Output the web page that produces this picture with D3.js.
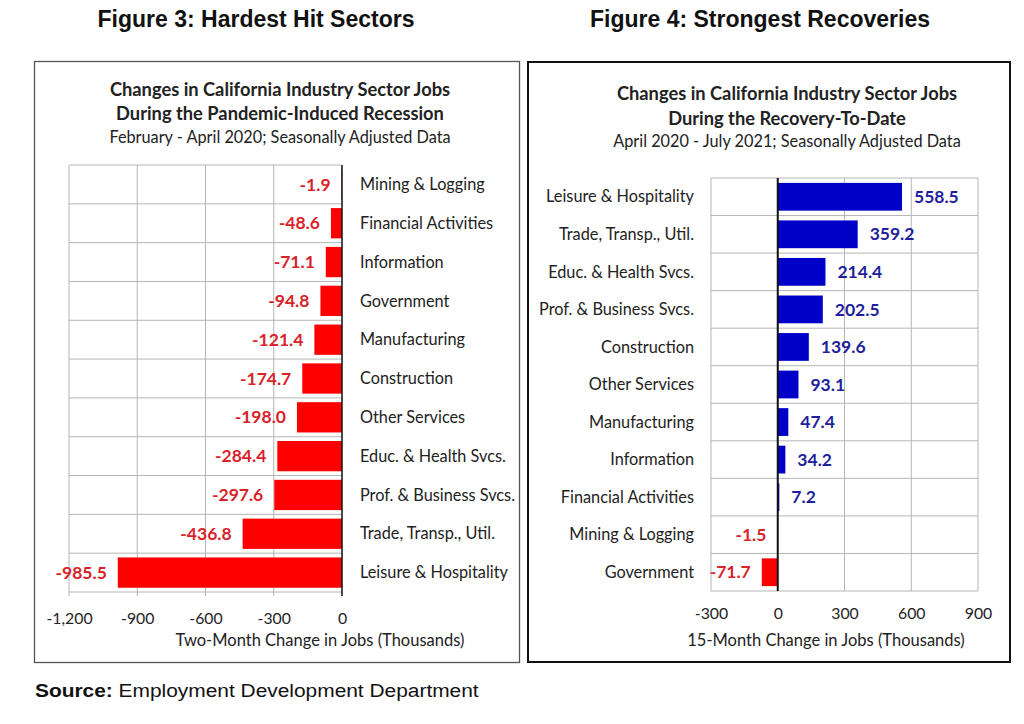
<!DOCTYPE html>
<html>
<head>
<meta charset="utf-8">
<script src="https://cdn.jsdelivr.net/npm/d3@7"></script>
<style>
  body { margin: 0; background: #fff; }
  svg { display: block; }
</style>
</head>
<body>
<div id="scene"></div>
<script>
// Figure 3 data: Feb - Apr 2020
const lossSectors = ["Mining & Logging", "Financial Activities", "Information", "Government",
  "Manufacturing", "Construction", "Other Services", "Educ. & Health Svcs.",
  "Prof. & Business Svcs.", "Trade, Transp., Util.", "Leisure & Hospitality"];
const lossValues = [-1.9, -48.6, -71.1, -94.8, -121.4, -174.7, -198.0, -284.4, -297.6, -436.8, -985.5];
const lossTicks = [-1200, -900, -600, -300, 0];

// Figure 4 data: Apr 2020 - Jul 2021
const gainSectors = ["Leisure & Hospitality", "Trade, Transp., Util.", "Educ. & Health Svcs.",
  "Prof. & Business Svcs.", "Construction", "Other Services", "Manufacturing",
  "Information", "Financial Activities", "Mining & Logging", "Government"];
const gainValues = [558.5, 359.2, 214.4, 202.5, 139.6, 93.1, 47.4, 34.2, 7.2, -1.5, -71.7];
const gainTicks = [-300, 0, 300, 600, 900];

const loc = d3.formatLocale({decimal: ".", thousands: ",", grouping: [3], currency: ["$", ""], minus: "-"});
const fmtTick = loc.format(",");
const fmtVal = loc.format(".1f");

const FONT = "Lato, 'Open Sans', sans-serif";
const ARIAL = "'Liberation Sans', Arial, sans-serif";
const RED = "#ff0000", RED_TXT = "#d9232b", BLUE = "#0000c8", BLUE_TXT = "#1f1f9c";

const width = 1024, height = 724;
const svg = d3.select("#scene").append("svg")
  .attr("width", width)
  .attr("height", height)
  .style("font-family", FONT);

// Figure headers
svg.append("text")
  .attr("x", 256).attr("y", 27)
  .attr("text-anchor", "middle")
  .attr("font-family", ARIAL)
  .attr("font-weight", "bold")
  .attr("font-size", "23px")
  .attr("fill", "#111")
  .text("Figure 3: Hardest Hit Sectors");
svg.append("text")
  .attr("x", 760).attr("y", 27)
  .attr("text-anchor", "middle")
  .attr("font-family", ARIAL)
  .attr("font-weight", "bold")
  .attr("font-size", "23px")
  .attr("fill", "#111")
  .text("Figure 4: Strongest Recoveries");

// Panel frames
svg.append("rect")
  .attr("x", 34.5).attr("y", 61.5).attr("width", 485).attr("height", 601)
  .attr("fill", "none").attr("stroke", "#555").attr("stroke-width", 1.3);
svg.append("rect")
  .attr("x", 528).attr("y", 62).attr("width", 482).attr("height", 600)
  .attr("fill", "none").attr("stroke", "#111").attr("stroke-width", 2);

function drawChart(opts) {
  const g = svg.append("g");
  const x = d3.scaleLinear().domain(opts.domain).range(opts.xRange);
  const y = d3.scaleBand().domain(opts.cats).range(opts.yRange)
    .paddingInner(opts.pad).paddingOuter(opts.pad / 2);
  const step = y.step();
  const x0 = x(0);

  // Titles
  g.selectAll("text.title")
    .data(opts.titles)
    .enter().append("text")
    .attr("x", opts.titleX)
    .attr("y", (d, i) => opts.titleY[i])
    .attr("text-anchor", "middle")
    .attr("font-size", (d, i) => i < 2 ? "18.3px" : "16.3px")
    .attr("font-weight", (d, i) => i < 2 ? "bold" : "normal")
    .attr("fill", "#222")
    .text(d => d);

  // Vertical gridlines
  g.selectAll("line.vg")
    .data(opts.ticks.filter(t => t !== 0))
    .enter().append("line")
    .attr("x1", d => x(d)).attr("x2", d => x(d))
    .attr("y1", opts.yRange[0]).attr("y2", opts.yRange[1] + opts.tickLen)
    .attr("stroke", "#b5b5b5").attr("stroke-width", 1);

  // Horizontal gridlines at row boundaries
  const bounds = d3.range(opts.cats.length + 1).map(i => opts.yRange[0] + i * step);
  g.selectAll("line.hg")
    .data(bounds)
    .enter().append("line")
    .attr("x1", x(opts.domain[0])).attr("x2", x(opts.domain[1]))
    .attr("y1", d => d).attr("y2", d => d)
    .attr("stroke", "#b5b5b5").attr("stroke-width", 1);

  // Bars
  g.selectAll("rect.bar")
    .data(opts.values)
    .enter().append("rect")
    .attr("x", d => Math.min(x(d), x0))
    .attr("y", (d, i) => y(opts.cats[i]))
    .attr("width", d => Math.abs(x(d) - x0))
    .attr("height", y.bandwidth())
    .attr("fill", d => d < 0 ? RED : BLUE);

  // Zero axis
  g.append("line")
    .attr("x1", x0).attr("x2", x0)
    .attr("y1", opts.yRange[0]).attr("y2", opts.yRange[1] + opts.tickLen)
    .attr("stroke", "#111").attr("stroke-width", opts.axisW);

  // Value labels
  g.selectAll("text.val")
    .data(opts.values)
    .enter().append("text")
    .attr("x", d => d < 0 ? Math.min(x(d), x0) - 11 : x(d) + 12)
    .attr("y", (d, i) => y(opts.cats[i]) + y.bandwidth() / 2)
    .attr("dy", "0.35em")
    .attr("text-anchor", d => d < 0 ? "end" : "start")
    .attr("font-size", "17.5px")
    .attr("font-weight", "bold")
    .attr("fill", d => d < 0 ? RED_TXT : BLUE_TXT)
    .text(d => fmtVal(d));

  // Category labels
  g.selectAll("text.cat")
    .data(opts.cats)
    .enter().append("text")
    .attr("x", opts.catX)
    .attr("y", d => y(d) + y.bandwidth() / 2)
    .attr("dy", "0.35em")
    .attr("text-anchor", opts.catAnchor)
    .attr("font-size", "16.3px")
    .attr("fill", "#222")
    .text(d => d);

  // Tick labels
  const axis = g.append("g")
    .attr("transform", `translate(0,${opts.tickY})`)
    .call(d3.axisBottom(x).tickValues(opts.ticks).tickSize(0).tickFormat(fmtTick));
  axis.select(".domain").remove();
  axis.selectAll("text")
    .attr("font-family", FONT)
    .attr("font-size", "15.8px")
    .attr("fill", "#222")
    .attr("dy", "0.35em")
    .attr("y", 0);

  // Axis title
  g.append("text")
    .attr("x", opts.axisTitleX)
    .attr("y", opts.axisTitleY)
    .attr("dy", "0.35em")
    .attr("text-anchor", "middle")
    .attr("font-size", "16.5px")
    .attr("fill", "#222")
    .text(opts.axisTitle);
}

drawChart({
  cats: lossSectors, values: lossValues, ticks: lossTicks,
  domain: [-1200, 0], xRange: [69, 342], yRange: [165, 592], pad: 0.22,
  titles: ["Changes in California Industry Sector Jobs",
           "During the Pandemic-Induced Recession",
           "February - April 2020; Seasonally Adjusted Data"],
  titleX: 280, titleY: [96, 120, 143],
  catX: 360, catAnchor: "start", tickLen: 4,
  tickY: 618, axisTitleX: 320, axisTitleY: 640,
  axisTitle: "Two-Month Change in Jobs (Thousands)", axisW: 1.5
});

drawChart({
  cats: gainSectors, values: gainValues, ticks: gainTicks,
  domain: [-300, 900], xRange: [711, 978], yRange: [178, 591], pad: 0.26,
  titles: ["Changes in California Industry Sector Jobs",
           "During the Recovery-To-Date",
           "April 2020 - July 2021; Seasonally Adjusted Data"],
  titleX: 787, titleY: [100, 125, 147],
  catX: 694, catAnchor: "end", tickLen: 0,
  tickY: 613, axisTitleX: 826, axisTitleY: 640,
  axisTitle: "15-Month Change in Jobs (Thousands)", axisW: 2
});

// Source line
const src = svg.append("text")
  .attr("transform", "translate(35,697) scale(1.1,1)")
  .attr("font-family", ARIAL)
  .attr("font-size", "19px")
  .attr("fill", "#111");
src.append("tspan").attr("font-weight", "bold").text("Source:");
src.append("tspan").text(" Employment Development Department");
</script>
</body>
</html>
